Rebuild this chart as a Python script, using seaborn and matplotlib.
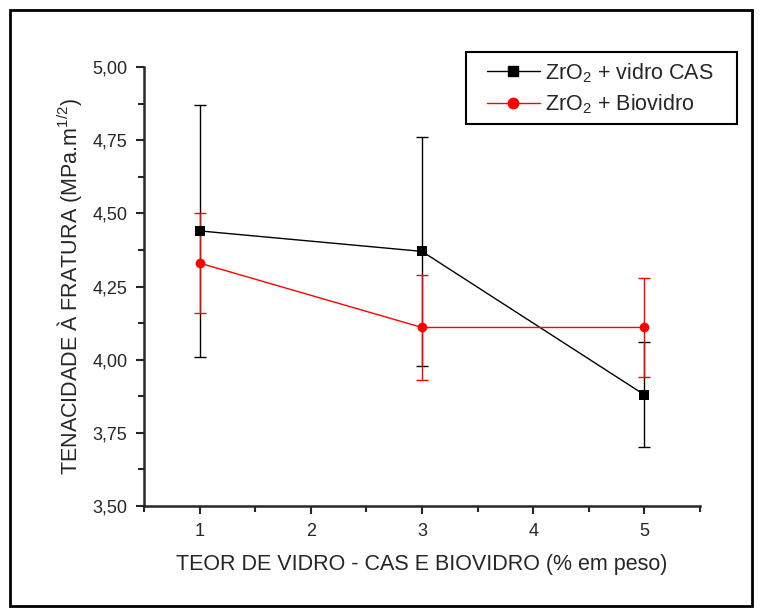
import pandas as pd
import numpy as np
import matplotlib
matplotlib.use("Agg")
import matplotlib.pyplot as plt
import seaborn as sns
from matplotlib.ticker import MultipleLocator, FuncFormatter
from matplotlib.patches import Rectangle

# data
teor = [1, 3, 5]
cas_mean = [4.44, 4.37, 3.88]
cas_err = [0.43, 0.39, 0.18]
bio_mean = [4.33, 4.11, 4.11]
bio_err = [0.17, 0.18, 0.17]
series_names = ["ZrO$_2$ + vidro CAS", "ZrO$_2$ + Biovidro"]

df = pd.DataFrame({
    "teor": teor * 2,
    "tenacidade": cas_mean + bio_mean,
    "erro": cas_err + bio_err,
    "serie": [series_names[0]] * 3 + [series_names[1]] * 3,
})

sns.set_style("ticks")
plt.rcParams["font.family"] = ["Liberation Sans", "DejaVu Sans"]
plt.rcParams["mathtext.fontset"] = "custom"
plt.rcParams["mathtext.rm"] = "Liberation Sans"
plt.rcParams["mathtext.it"] = "Liberation Sans"

W, H = 763, 616
fig = plt.figure(figsize=(W / 100, H / 100), dpi=100)
ax = fig.add_axes([0.1887, 0.1786, 0.9174 - 0.1887, 0.8912 - 0.1786])

colors = {series_names[0]: "black", series_names[1]: "red"}
markers = {series_names[0]: "s", series_names[1]: "o"}

# error bars first
for name, grp in df.groupby("serie", sort=False):
    ax.errorbar(grp["teor"], grp["tenacidade"], yerr=grp["erro"], fmt="none",
                ecolor=colors[name], elinewidth=1, capsize=4, capthick=1, zorder=2)

sns.lineplot(data=df, x="teor", y="tenacidade", hue="serie", style="serie",
             palette=colors, markers=markers, dashes=False, markersize=7,
             markeredgewidth=0, linewidth=1, ax=ax, legend=False, zorder=3)

ax.set_xlim(0.5, 5.5)
ax.set_ylim(3.5, 5.0)
ax.xaxis.set_major_locator(MultipleLocator(1))
ax.xaxis.set_minor_locator(MultipleLocator(0.5))
ax.yaxis.set_major_locator(MultipleLocator(0.25))
ax.yaxis.set_minor_locator(MultipleLocator(0.125))
ax.yaxis.set_major_formatter(FuncFormatter(lambda v, p: f"{v:.2f}".replace(".", ",")))
ax.tick_params(which="major", length=6, width=1.5, labelsize=13, direction="out", pad=6)
ax.tick_params(which="minor", length=4, width=1.5, direction="out")
for s in ["top", "right"]:
    ax.spines[s].set_visible(False)
for s in ["left", "bottom"]:
    ax.spines[s].set_linewidth(1.8)

ax.set_xlabel("TEOR DE VIDRO - CAS E BIOVIDRO (% em peso)", fontsize=15.5, labelpad=10)
ax.set_ylabel("TENACIDADE À FRATURA (MPa.m$^{1/2}$)", fontsize=15.5, labelpad=6)

# legend (frame drawn separately)
handles = [
    plt.Line2D([], [], color="black", marker="s", markersize=7, linewidth=1),
    plt.Line2D([], [], color="red", marker="o", markersize=7.5, linewidth=1),
]
fig.legend(handles, series_names, loc="upper left",
           bbox_to_anchor=(487 / W, 1 - 61 / H), borderaxespad=0, borderpad=0,
           fontsize=15.5, frameon=False, handlelength=2.45, handletextpad=0.25,
           labelspacing=0.35)
fig.patches.append(Rectangle((466 / W, 1 - 124 / H), 271 / W, 72 / H,
                             transform=fig.transFigure, fill=False,
                             edgecolor="black", linewidth=1.5))

# outer frame
fig.patches.append(Rectangle((10 / W, 1 - 606 / H), 742 / W, 596 / H,
                             transform=fig.transFigure, fill=False,
                             edgecolor="black", linewidth=2))

fig.savefig("out.png", dpi=100)
